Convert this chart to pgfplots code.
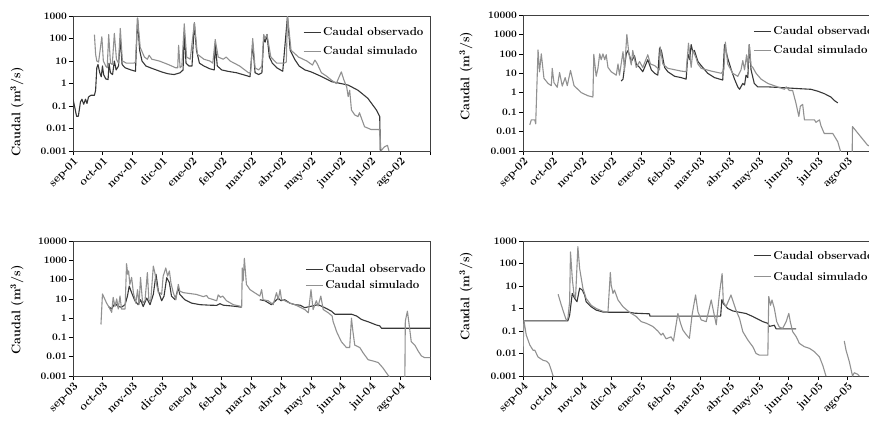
\documentclass[border=0pt]{standalone}
\usepackage{pgfplots}
\pgfplotsset{compat=1.18}
\definecolor{obs}{RGB}{55,55,55}
\definecolor{sim}{RGB}{145,145,145}
\tikzset{
  ob/.style={color=obs, line width=1.1pt, line join=round},
  sm/.style={color=sim, line width=1.1pt, line join=round},
}
\pgfplotsset{
  legend image code/.code={\draw[#1] (0pt,0pt) -- (17pt,0pt);},
  every axis/.append style={
    scale only axis, height=135pt,
    yminorticks=false,
    xmin=0, xmax=12, xtick={0,...,12},
    tick pos=left, tick align=outside, major tick length=4pt,
    axis line style={line width=0.7pt, black!75},
    tick style={line width=0.7pt, black},
    yticklabel style={font=\bfseries\fontsize{10}{12}\selectfont, inner sep=2pt},
    xticklabel style={rotate=45, anchor=north east, font=\bfseries\fontsize{11.5}{13}\selectfont, inner sep=1pt},
    ylabel={\bfseries Caudal (m\textsuperscript{3}/s)},
    ylabel style={font=\fontsize{12.5}{14}\selectfont, anchor=center},
    unbounded coords=jump,
    legend cell align=left,
    legend style={draw=none, fill=none, anchor=north west, font=\bfseries\fontsize{11.5}{13}\selectfont,
      inner xsep=0pt, inner ysep=0pt, nodes={inner xsep=2pt, inner ysep=0.5pt}},
  },
}
\begin{document}
\begin{tikzpicture}
% ---------------- Panel 1 ----------------
\begin{semilogyaxis}[at={(73pt,-151pt)}, anchor=south west, width=357pt,
  ymin=0.001, ymax=1000,
  ytick={0.001,0.01,0.1,1,10,100,1000}, yticklabels={0.001,0.01,0.1,1,10,100,1000},
  xticklabels={sep-01,oct-01,nov-01,dic-01,ene-02,feb-02,mar-02,abr-02,may-02,jun-02,jul-02,ago-02,{}},
  ylabel style={at={(axis description cs:-0.157,0.29)}},
  legend style={at={(0.644,0.92)}, row sep=8.5pt}]
\addplot[ob] coordinates {(0.00,0.2)(0.05,0.1)(0.12,0.035)(0.18,0.035)(0.25,0.15)(0.30,0.2)(0.36,0.12)(0.42,0.2)(0.47,0.13)(0.52,0.25)(0.60,0.3)(0.72,0.3)(0.76,0.5)(0.80,5)(0.84,7)(0.90,3)(0.95,2)(0.99,6)(1.03,2.5)(1.10,1.6)(1.18,1.5)(1.21,8)(1.26,3)(1.33,2.5)(1.39,10)(1.45,4)(1.53,6)(1.59,100)(1.65,7)(1.75,5)(1.95,4)(2.10,3.5)(2.17,800)(2.24,30)(2.32,10)(2.45,6)(2.60,5)(2.80,4)(3.00,3.2)(3.20,2.7)(3.40,2.5)(3.60,3.0)(3.70,4)(3.74,200)(3.80,8)(3.90,6)(4.00,6)(4.08,500)(4.15,30)(4.25,8)(4.40,6)(4.60,4.5)(4.75,4)(4.78,60)(4.85,6)(5.00,4)(5.20,3.5)(5.50,3)(5.80,2.3)(5.95,2)(6.04,60)(6.12,3)(6.24,2.5)(6.35,3)(6.41,100)(6.46,70)(6.52,150)(6.60,15)(6.70,8)(6.85,5)(7.05,3.5)(7.21,1000)(7.30,30)(7.45,12)(7.60,6)(7.80,4)(8.00,3.3)(8.30,2.2)(8.70,1.2)(9.00,1.0)(9.25,0.85)(9.58,0.5)(9.91,0.22)(10.20,0.066)(10.31,0.034)(10.33,0.001)};
\addlegendentry{Caudal observado}
\addplot[sm] coordinates {(0.72,150)(0.76,20)(0.80,10)(0.86,9)(0.97,120)(1.02,10)(1.10,6)(1.15,5)(1.20,150)(1.26,8)(1.32,7)(1.39,170)(1.46,12)(1.53,8)(1.59,280)(1.66,10)(1.80,8)(2.05,8)(2.10,9)(2.17,800)(2.26,40)(2.40,15)(2.50,12)(2.56,18)(2.65,12)(2.90,10)(3.20,7)(3.45,5)(3.52,5)(3.55,50)(3.60,5)(3.66,6)(3.74,450)(3.82,15)(3.94,12)(4.08,500)(4.18,20)(4.40,12)(4.60,10)(4.70,8)(4.78,90)(4.88,15)(5.05,12)(5.15,15)(5.28,10)(5.60,6)(5.90,3)(5.97,3)(6.04,100)(6.12,5)(6.24,4)(6.35,6)(6.41,150)(6.46,100)(6.52,150)(6.65,15)(6.85,8)(7.10,8)(7.17,9)(7.21,1000)(7.33,30)(7.58,15)(7.86,10)(8.05,6.6)(8.13,11)(8.20,8)(8.35,3)(8.55,2)(8.69,1.4)(8.85,1.0)(9.02,3.3)(9.10,1.5)(9.20,0.7)(9.25,0.26)(9.30,0.5)(9.36,0.066)(9.47,0.04)(9.58,0.034)(9.63,0.05)(9.69,0.03)(9.80,0.012)(10.02,0.009)(10.30,0.009)(10.33,0.003)(10.35,0.001)(10.46,0.0015)(10.57,0.0018)(10.62,0.001)};
\addlegendentry{Caudal simulado}
\end{semilogyaxis}
% ---------------- Panel 2 ----------------
\begin{semilogyaxis}[at={(523pt,-151pt)}, anchor=south west, width=354pt, height=136pt,
  ymin=0.001, ymax=10000,
  ytick={0.001,0.01,0.1,1,10,100,1000,10000}, yticklabels={0.001,0.01,0.1,1,10,100,1000,10000},
  xticklabels={sep-02,oct-02,nov-02,dic-02,ene-03,feb-03,mar-03,abr-03,may-03,jun-03,jul-03,ago-03,{}},
  ylabel style={at={(axis description cs:-0.161,0.55)}},
  legend style={at={(0.65,0.92)}, row sep=8.5pt}]
\addplot[ob] coordinates {(3.33,4)(3.39,5)(3.50,100)(3.56,150)(3.67,40)(3.78,80)(3.84,30)(3.95,20)(4.06,12)(4.23,50)(4.35,15)(4.46,10)(4.57,8)(4.63,200)(4.69,150)(4.80,20)(4.91,12)(5.14,7)(5.36,6)(5.53,5)(5.59,100)(5.65,50)(5.70,300)(5.76,120)(5.81,150)(5.93,40)(6.04,25)(6.26,10)(6.49,6)(6.77,4.5)(6.83,300)(6.94,60)(7.06,15)(7.17,5)(7.28,2)(7.34,1.5)(7.45,3)(7.51,2.5)(7.56,8)(7.62,6)(7.67,300)(7.73,15)(7.84,3)(7.96,2)(8.30,2)(8.86,1.8)(9.42,1.6)(9.76,1.5)(9.99,1.2)(10.21,0.9)(10.44,0.6)(10.55,0.4)(10.67,0.3)};
\addlegendentry{Caudal observado}
\addplot[sm] coordinates {(0.23,0.022)(0.28,0.04)(0.40,0.04)(0.43,0.025)(0.51,160)(0.56,12)(0.62,100)(0.71,5.5)(0.85,3)(0.96,2.3)(0.99,18)(1.05,3.3)(1.16,1.9)(1.24,11)(1.33,2.2)(1.43,6)(1.50,2.3)(1.61,14)(1.73,2.3)(1.98,1)(2.20,0.7)(2.37,0.6)(2.40,95)(2.48,7)(2.54,18)(2.60,100)(2.65,50)(2.71,100)(2.77,50)(2.82,90)(2.88,20)(2.99,12)(3.16,8)(3.22,30)(3.27,8)(3.39,130)(3.44,14)(3.52,1000)(3.59,100)(3.67,27)(3.72,150)(3.84,20)(3.95,40)(4.06,20)(4.23,90)(4.32,30)(4.46,25)(4.63,15)(4.65,230)(4.74,30)(4.91,18)(5.36,13)(5.53,12)(5.61,350)(5.70,20)(5.76,150)(5.87,60)(5.93,30)(6.04,18)(6.38,13)(6.72,10)(6.81,15)(6.86,400)(6.94,30)(7.11,10)(7.28,7)(7.39,15)(7.45,45)(7.51,15)(7.58,90)(7.62,20)(7.67,300)(7.73,25)(7.79,20)(7.90,10)(8.07,5)(8.30,3)(8.63,2)(8.86,1.5)(8.92,2)(9.03,1.3)(9.14,1.3)(9.25,0.3)(9.35,0.06)(9.40,0.2)(9.48,0.25)(9.54,0.04)(9.88,0.04)(9.93,0.03)(10.05,0.04)(10.10,0.02)(10.21,0.008)(10.50,0.008)(10.67,0.003)(10.76,0.001)(10.80,0.0001)(11.15,0.0001)(11.17,0.018)(11.68,0.002)(12.00,0.0012)};
\addlegendentry{Caudal simulado}
\end{semilogyaxis}
% ---------------- Panel 3 ----------------
\begin{semilogyaxis}[at={(73pt,-376pt)}, anchor=south west, width=357pt,
  ymin=0.001, ymax=10000,
  ytick={0.001,0.01,0.1,1,10,100,1000,10000}, yticklabels={0.001,0.01,0.1,1,10,100,1000,10000},
  xticklabels={sep-03,oct-03,nov-03,dic-03,ene-04,feb-04,mar-04,abr-04,may-04,jun-04,jul-04,ago-04,{}},
  ylabel style={at={(axis description cs:-0.157,0.49)}},
  legend style={at={(0.65,0.83)}, row sep=5.5pt}]
\addplot[ob] coordinates {(1.19,4)(1.30,3)(1.41,6)(1.52,4)(1.63,3.7)(1.75,5)(1.83,14)(1.89,46)(1.97,21)(2.08,8)(2.19,5)(2.27,9)(2.36,4)(2.48,11)(2.59,5)(2.70,17)(2.79,190)(2.87,25)(2.98,8)(3.06,14)(3.15,125)(3.24,70)(3.31,14)(3.43,9)(3.54,38)(3.59,17)(3.76,9)(3.99,6)(4.27,5)(4.60,4.7)(4.83,4.6)(4.94,5.6)(5.05,4.7)(5.39,4.2)(5.67,3.7)(5.70,nan)(6.28,9)(6.45,8)(6.67,5)(6.90,11)(6.99,8)(7.12,9)(7.29,6)(7.46,5)(7.63,4.7)(7.79,3.5)(8.02,4.2)(8.24,5)(8.46,3.5)(8.69,2.3)(8.80,1.6)(8.91,1.6)(9.36,1.6)(9.53,1.3)(9.70,0.85)(9.92,0.65)(10.20,0.44)(10.31,0.4)(10.37,0.3)(12.00,0.3)};
\addlegendentry{Caudal observado}
\addplot[sm] coordinates {(0.94,0.47)(0.99,18)(1.13,6)(1.22,3.5)(1.30,2)(1.35,12)(1.41,4)(1.47,10)(1.52,3)(1.58,14)(1.63,3)(1.75,3)(1.80,670)(1.84,190)(1.87,280)(1.91,56)(1.97,130)(2.03,21)(2.11,6)(2.17,30)(2.22,5)(2.27,130)(2.34,6)(2.42,8)(2.50,230)(2.55,9)(2.61,7)(2.70,500)(2.75,230)(2.81,56)(2.87,21)(2.92,21)(2.98,17)(3.03,150)(3.12,400)(3.18,150)(3.24,280)(3.29,70)(3.37,21)(3.46,9)(3.54,56)(3.59,25)(3.71,21)(4.15,17)(4.38,13)(4.49,15)(4.55,11)(4.83,8)(4.88,16)(4.96,12)(5.03,14)(5.16,8)(5.39,5)(5.61,4.2)(5.67,3.7)(5.69,400)(5.72,85)(5.76,1270)(5.83,56)(5.95,30)(6.17,18)(6.28,14)(6.34,30)(6.39,9)(6.56,8)(6.73,5)(6.84,21)(6.90,9)(6.96,30)(7.01,9)(7.12,8)(7.29,6)(7.46,5)(7.63,3.7)(7.79,2.8)(7.91,1.9)(8.00,30)(8.07,2.8)(8.18,8)(8.24,4.2)(8.33,14)(8.41,2.8)(8.58,1.9)(8.71,1.3)(8.74,0.7)(8.86,0.2)(9.02,0.06)(9.19,0.03)(9.30,0.03)(9.36,1.0)(9.41,0.2)(9.47,0.04)(9.64,0.03)(9.75,0.016)(9.92,0.007)(10.09,0.006)(10.26,0.005)(10.42,0.0026)(10.59,0.0011)(10.62,0.001)(10.70,0.0001)(11.15,0.0001)(11.17,0.7)(11.24,2.3)(11.29,0.6)(11.37,0.06)(11.49,0.04)(11.60,0.02)(11.71,0.011)(11.82,0.009)(12.00,0.009)};
\addlegendentry{Caudal simulado}
\end{semilogyaxis}
% ---------------- Panel 4 ----------------
\begin{semilogyaxis}[at={(523pt,-376pt)}, anchor=south west, width=354pt,
  ymin=0.001, ymax=1000,
  ytick={0.001,0.01,0.1,1,10,100,1000}, yticklabels={0.001,0.01,0.1,1,10,100,1000},
  xticklabels={sep-04,oct-04,nov-04,dic-04,ene-05,feb-05,mar-05,abr-05,may-05,jun-05,jul-05,ago-05,{}},
  ylabel style={at={(axis description cs:-0.161,0.59)}},
  legend style={at={(0.65,0.93)}, row sep=10.5pt}]
\addplot[ob] coordinates {(0.00,0.28)(1.52,0.28)(1.58,0.5)(1.67,4.7)(1.75,2.8)(1.83,2)(1.92,8)(2.01,6.6)(2.09,4)(2.14,2)(2.31,1.2)(2.48,0.85)(2.71,0.7)(2.93,0.68)(3.61,0.68)(3.78,0.62)(4.29,0.58)(4.30,0.46)(6.70,0.46)(6.74,2.5)(6.80,1.6)(6.94,1.0)(7.11,0.78)(7.34,0.68)(7.56,0.6)(7.79,0.44)(7.90,0.37)(8.13,0.26)(8.30,0.22)(8.35,0.16)(8.52,0.18)(8.58,0.125)(9.26,0.125)};
\addlegendentry{Caudal observado}
\addplot[sm] coordinates {(0.00,0.01)(0.03,0.3)(0.11,0.066)(0.23,0.024)(0.34,0.014)(0.40,0.014)(0.51,0.007)(0.68,0.005)(0.79,0.0046)(0.88,0.0036)(0.96,0.0018)(1.02,0.001)(1.10,nan)(1.19,4.3)(1.30,1.4)(1.41,0.5)(1.47,0.3)(1.52,0.35)(1.58,2)(1.61,330)(1.67,22)(1.73,4)(1.78,2.8)(1.86,560)(1.92,60)(2.03,8)(2.14,2.8)(2.31,1.4)(2.48,1)(2.71,0.75)(2.88,0.7)(2.96,40)(2.99,11)(3.05,4.7)(3.10,6.6)(3.22,2.4)(3.39,1.2)(3.61,0.68)(3.84,0.44)(4.01,0.26)(4.18,0.22)(4.40,0.16)(4.57,0.1)(4.68,0.066)(4.74,0.08)(4.85,0.045)(5.02,0.055)(5.10,0.036)(5.25,0.6)(5.34,0.22)(5.42,0.11)(5.53,0.07)(5.64,0.047)(5.73,0.51)(5.85,4)(5.93,0.72)(6.04,0.31)(6.21,0.26)(6.38,2.4)(6.46,0.72)(6.55,0.19)(6.66,4.7)(6.75,36)(6.79,2)(6.88,1.2)(7.05,4)(7.22,0.85)(7.34,0.36)(7.45,0.094)(7.62,0.04)(7.79,0.02)(7.90,0.01)(8.01,0.0085)(8.30,0.0085)(8.33,3.4)(8.39,1.4)(8.44,2.4)(8.52,1.0)(8.60,0.26)(8.69,0.15)(8.80,0.13)(8.92,0.26)(9.01,0.61)(9.06,0.26)(9.14,0.094)(9.26,0.056)(9.37,0.028)(9.54,0.02)(9.71,0.017)(9.88,0.012)(10.05,0.007)(10.16,0.003)(10.27,0.001)(10.35,nan)(10.89,0.036)(10.95,0.014)(11.06,0.0044)(11.17,0.001)(11.23,0.0014)(11.34,0.0012)(11.40,0.001)};
\addlegendentry{Caudal simulado}
\end{semilogyaxis}
\pgfresetboundingbox
\path[use as bounding box] (0pt,0pt) rectangle (869pt,-426pt);
\end{tikzpicture}
\end{document}
